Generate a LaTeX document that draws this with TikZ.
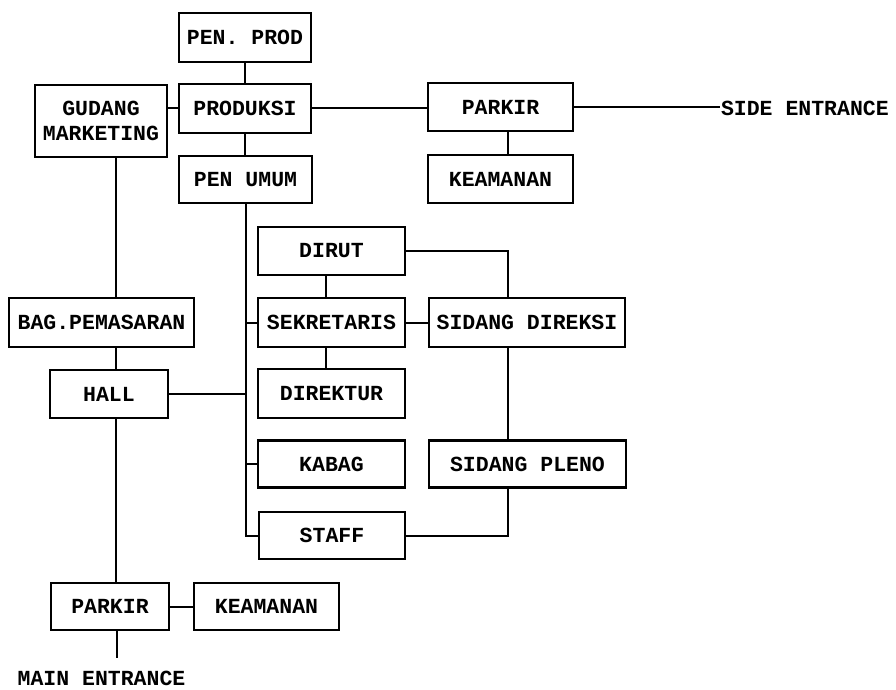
\documentclass[tikz,border=0pt]{standalone}
\usepackage{fontspec}
\setmonofont{Liberation Mono}
\usepackage{tikz}
\tikzset{room/.style={draw,line width=2.2pt,inner sep=0pt,align=center,font=\fontsize{21.5}{25}\selectfont\ttfamily\bfseries},
  gate/.style={inner sep=0pt,font=\fontsize{21.5}{25}\selectfont\ttfamily\bfseries}}

\begin{document}
\begin{tikzpicture}[x=1pt,y=-1pt,line width=2pt]
   \useasboundingbox (0,0) rectangle (896,690);
   \coordinate (lx) at (116,0);
   \coordinate (mx) at (246,0);
   \coordinate (rx) at (508,0);
   \node[room,minimum width=132pt,minimum height=49pt] (penprod) at (245,37.5) {PEN. PROD};
   \node[room,minimum width=132pt,minimum height=49pt] (produksi) at (245,108.5) {PRODUKSI};
   \node[room,minimum width=132pt,minimum height=72pt] (gudang) at (101,121) {GUDANG\\MARKETING};
   \node[room,minimum width=133pt,minimum height=47pt] (penumum) at (245.5,179.5) {PEN UMUM};
   \node[room,minimum width=145pt,minimum height=48pt] (parkirA) at (500.5,107) {PARKIR};
   \node[room,minimum width=145pt,minimum height=48pt] (keamananA) at (500.5,179) {KEAMANAN};
   \node[gate,anchor=west] (side) at (720,108) {SIDE ENTRANCE};
   \node[room,minimum width=147pt,minimum height=48pt] (dirut) at (331.5,251) {DIRUT};
   \node[room,minimum width=147pt,minimum height=49pt] (sekretaris) at (331.5,322.5) {SEKRETARIS};
   \node[room,minimum width=196pt,minimum height=49pt] (sidangdir) at (527,322.5) {SIDANG DIREKSI};
   \node[room,minimum width=147pt,minimum height=49pt] (direktur) at (331.5,393.5) {DIREKTUR};
   \node[room,minimum width=185pt,minimum height=49pt] (bag) at (101.5,322.5) {BAG.PEMASARAN};
   \node[room,minimum width=118pt,minimum height=48pt] (hall) at (109,394) {HALL};
   \node[room,minimum width=147pt,minimum height=47pt] (kabag) at (331.5,464) {KABAG};
   \node[room,minimum width=197pt,minimum height=47pt] (sidangpleno) at (527.5,464) {SIDANG PLENO};
   \node[room,minimum width=146pt,minimum height=47pt] (staff) at (332,535.5) {STAFF};
   \node[room,minimum width=118pt,minimum height=47pt] (parkirB) at (110,606.5) {PARKIR};
   \node[room,minimum width=145pt,minimum height=47pt] (keamananB) at (266.5,606.5) {KEAMANAN};
   \node[gate] (main) at (101.5,678) {MAIN ENTRANCE};
   \coordinate (mainend) at (117,658);

   \draw (penprod.south) -- (produksi.north);
   \draw (produksi.south) -- (produksi.south |- penumum.north);
   \draw (produksi.west) -- (produksi.west -| gudang.east);
   \draw (produksi.east) -- (produksi.east -| parkirA.west);
   \draw (parkirA.east) -- (parkirA.east -| side.west);
   \draw (rx |- parkirA.south) -- (rx |- keamananA.north);
   \draw (lx |- gudang.south) -- (lx |- bag.north);
   \draw (lx |- bag.south) -- (lx |- hall.north);
   \draw (lx |- hall.south) -- (lx |- parkirB.north);
   \draw (mainend |- parkirB.south) -- (mainend);
   \draw (parkirB.east) -- (keamananB.west);
   \draw (mx |- penumum.south) -- (mx |- staff.west) -- (staff.west);
   \draw (mx |- sekretaris.west) -- (sekretaris.west);
   \draw (hall.east) -- (mx |- hall.east);
   \draw (mx |- kabag.west) -- (kabag.west);
   \draw ([xshift=-6pt]dirut.south) -- ([xshift=-6pt]sekretaris.north);
   \draw ([xshift=-6pt]sekretaris.south) -- ([xshift=-6pt]direktur.north);
   \draw (sekretaris.east) -- (sidangdir.west);
   \draw (dirut.east) -- (rx |- dirut.east) -- (rx |- sidangdir.north);
   \draw (rx |- sidangdir.south) -- (rx |- sidangpleno.north);
   \draw (rx |- sidangpleno.south) -- (rx |- staff.east) -- (staff.east);
\end{tikzpicture}
\end{document}
